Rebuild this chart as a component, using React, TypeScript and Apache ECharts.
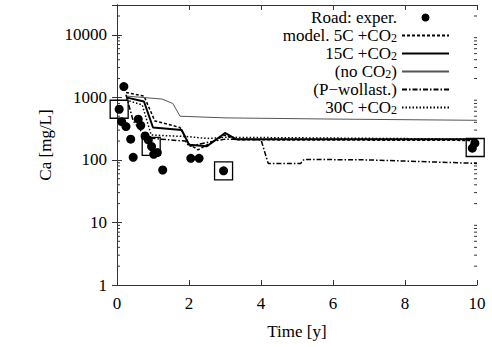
import React, { useEffect, useRef } from 'react';
import * as echarts from 'echarts';

// ---- Data ----
const xTickStep = 2;
const xMin = 0;
const xMax = 10;
const yMin = 1;
const yMax = 30000;

const seriesNames = ['Road: exper.', 'model. 5C +CO2', '15C +CO2', '(no CO2)', '(P\u2212wollast.)', '30C +CO2'];

const expTime = [0.06, 0.19, 0.13, 0.25, 0.38, 0.45, 0.59, 0.66, 0.78, 0.87, 0.96, 1.02, 1.12, 1.27, 2.05, 2.28, 2.96, 9.87, 9.94];
const expCa = [646, 1490, 409, 341, 215, 110, 448, 355, 242, 209, 164, 123, 131, 69, 106, 106, 67, 154, 185];

const boxTime = [0.06, 0.95, 2.96, 9.95];
const boxCa = [646, 165, 67, 158];

const t5C = [0.25, 0.75, 1.05, 1.75, 2.0, 2.25, 3.0, 3.3, 10];
const ca5C = [1200, 1050, 420, 330, 180, 145, 250, 210, 205];

const t15C = [0.25, 0.75, 1.0, 1.8, 2.0, 2.5, 3.0, 3.3, 10];
const ca15C = [1000, 860, 330, 300, 175, 165, 270, 215, 215];

const tNoCO2 = [0.25, 1.25, 1.55, 1.75, 3.0, 6.0, 10];
const caNoCO2 = [1050, 940, 800, 500, 470, 450, 430];

const tPW = [0.25, 0.45, 0.8, 1.2, 1.9, 2.0, 2.5, 3.0, 4.0, 4.2, 5.1, 5.2, 7.0, 10];
const caPW = [1100, 420, 230, 215, 200, 165, 190, 215, 210, 88, 88, 102, 100, 88];

const t30C = [0.25, 0.7, 0.95, 2.0, 2.5, 3.0, 10];
const ca30C = [910, 760, 250, 235, 220, 230, 215];

const minorFactors = [2, 3, 4, 5, 6, 7, 8, 9];
const decades = [1, 10, 100, 1000, 10000];

const FONT = 'Liberation Serif';
const AXIS = '#333';

const zip = (a: number[], b: number[]) => a.map((v, i) => [v, b[i]]);

export default function App() {
  const ref = useRef<HTMLDivElement>(null);
  useEffect(() => {
    if (!ref.current) return;
    const chart = echarts.init(ref.current, undefined, { renderer: 'svg' });

    const minorTicks: number[][] = [];
    decades.forEach((d) => minorFactors.forEach((k) => {
      if (k * d < yMax) minorTicks.push([0, k * d]);
    }));

    const isPow10 = (v: number) => Math.abs(Math.log10(v) - Math.round(Math.log10(v))) < 1e-6;

    const lineBase = {
      type: 'line', showSymbol: false, symbol: 'none', clip: false, z: 3,
      itemStyle: { color: 'rgba(0,0,0,0)', opacity: 0 },
    };

    const option: any = {
      animation: false,
      grid: { left: 117, right: 15, top: 5, bottom: 62, show: false, outerBoundsMode: 'none' },
      legend: {
        data: seriesNames,
        orient: 'vertical',
        align: 'right',
        right: 37,
        top: 4,
        itemWidth: 47,
        itemHeight: 8,
        itemGap: 1,
        selectedMode: false,
        formatter: (name: string) => name.replace('CO2', 'CO{sub|2}'),
        textStyle: {
          fontFamily: FONT,
          fontSize: 17,
          color: '#000',
          lineHeight: 16,
          rich: {
            sub: { fontFamily: FONT, fontSize: 12, lineHeight: 8, verticalAlign: 'bottom', color: '#000' },
          },
        },
      },
      xAxis: [
        {
          type: 'value', min: xMin, max: xMax, interval: xTickStep, position: 'bottom',
          name: 'Time [y]', nameLocation: 'middle', nameGap: 38,
          nameTextStyle: { fontFamily: FONT, fontSize: 17, color: '#000' },
          axisLine: { show: true, lineStyle: { color: AXIS, width: 1 } },
          axisTick: { show: true, inside: true, length: 5, lineStyle: { color: AXIS } },
          axisLabel: { fontFamily: FONT, fontSize: 17, color: '#000', margin: 10 },
          splitLine: { show: false },
        },
        {
          type: 'value', min: xMin, max: xMax, interval: xTickStep, position: 'top',
          axisLine: { show: true, lineStyle: { color: AXIS, width: 1 } },
          axisTick: { show: true, inside: true, length: 5, lineStyle: { color: AXIS } },
          axisLabel: { show: false },
          splitLine: { show: false },
        },
      ],
      yAxis: [
        {
          type: 'log', logBase: 10, min: yMin, max: yMax, position: 'left',
          name: 'Ca [mg/L]', nameLocation: 'middle', nameGap: 55,
          nameTextStyle: { fontFamily: FONT, fontSize: 17, color: '#000' },
          axisLine: { show: true, lineStyle: { color: AXIS, width: 1 } },
          axisTick: { show: true, inside: true, length: 5, lineStyle: { color: AXIS } },
          axisLabel: {
            fontFamily: FONT, fontSize: 17, color: '#000', margin: 10,
            formatter: (v: number) => (isPow10(v) ? String(Math.round(v)) : ''),
            showMaxLabel: false,
          },
          splitLine: { show: false },
        },
        {
          type: 'log', logBase: 10, min: yMin, max: yMax, position: 'right',
          axisLine: { show: true, lineStyle: { color: AXIS, width: 1 } },
          axisTick: { show: true, inside: true, length: 5, lineStyle: { color: AXIS } },
          axisLabel: { show: false },
          splitLine: { show: false },
        },
      ],
      series: [
        {
          name: 'minorTicks', type: 'custom', silent: true, xAxisIndex: 0, yAxisIndex: 0,
          data: minorTicks, clip: false,
          renderItem: (params: any, api: any) => {
            const p = api.coord([0, api.value(1)]);
            const cs = params.coordSys;
            return {
              type: 'group',
              children: [
                { type: 'line', shape: { x1: cs.x, y1: p[1], x2: cs.x + 3, y2: p[1] }, style: { stroke: AXIS, lineWidth: 1 } },
                { type: 'line', shape: { x1: cs.x + cs.width - 3, y1: p[1], x2: cs.x + cs.width, y2: p[1] }, style: { stroke: AXIS, lineWidth: 1 } },
              ],
            };
          },
        },
        {
          name: seriesNames[0], type: 'scatter', data: zip(expTime, expCa), symbol: 'circle', symbolSize: 9,
          itemStyle: { color: '#000', opacity: 1 }, clip: false, z: 4,
        },
        {
          name: 'boxes', type: 'scatter', data: zip(boxTime, boxCa), symbol: 'rect', symbolSize: 18,
          itemStyle: { color: 'rgba(0,0,0,0)', borderColor: '#000', borderWidth: 1.3, opacity: 1 }, clip: false, z: 5,
        },
        { ...lineBase, name: seriesNames[1], data: zip(t5C, ca5C), lineStyle: { color: '#000', width: 1.5, type: [3, 2] } },
        { ...lineBase, name: seriesNames[2], data: zip(t15C, ca15C), lineStyle: { color: '#000', width: 2, type: 'solid' } },
        { ...lineBase, name: seriesNames[3], data: zip(tNoCO2, caNoCO2), lineStyle: { color: '#555', width: 1, type: 'solid' } },
        { ...lineBase, name: seriesNames[4], data: zip(tPW, caPW), lineStyle: { color: '#000', width: 1.5, type: [5, 2, 1.5, 2] } },
        { ...lineBase, name: seriesNames[5], data: zip(t30C, ca30C), lineStyle: { color: '#000', width: 1.5, type: [1.5, 2] } },
      ],
    };
    chart.setOption(option);
    return () => chart.dispose();
  }, []);
  return <div ref={ref} style={{ position: 'absolute', left: 0, top: 0, width: 492, height: 347, background: '#fff' }} />;
}
